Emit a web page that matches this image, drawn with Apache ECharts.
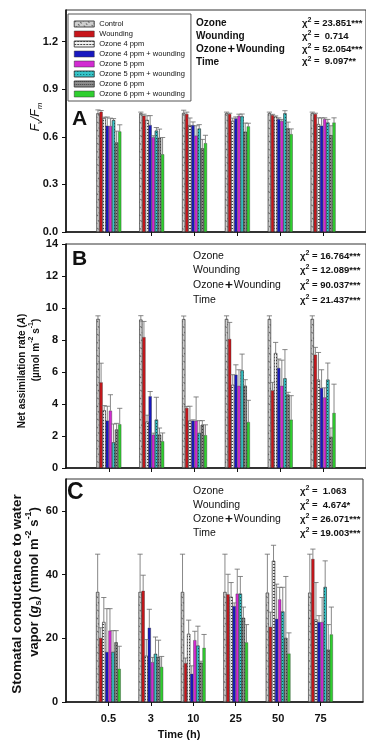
<!DOCTYPE html>
<html><head><meta charset="utf-8">
<script src="https://cdn.jsdelivr.net/npm/echarts@6/dist/echarts.min.js"></script>
<style>html,body{margin:0;padding:0;background:#fff}#c{width:366px;height:741px}</style>
</head><body><div id="c"></div>
<script>
const FF = 'Liberation Sans, Arial, sans-serif';
const FN = 'Liberation Sans Narrow, Liberation Sans, Arial, sans-serif';
const times = ['0.5','3','10','25','50','75'];
const seriesNames = ['Control','Wounding','Ozone 4 ppm','Ozone 4 ppm + wounding','Ozone 5 ppm','Ozone 5 ppm + wounding','Ozone 6 ppm','Ozone 6 ppm + wounding'];

// Panel A: Fv/Fm means and upper errors
const fvControl = [0.748,0.748,0.750,0.748,0.748,0.748];
const fvWound   = [0.758,0.733,0.744,0.744,0.737,0.744];
const fvOz4     = [0.718,0.706,0.674,0.700,0.727,0.680];
const fvOz4W    = [0.670,0.674,0.674,0.716,0.712,0.670];
const fvOz5     = [0.668,0.597,0.608,0.733,0.700,0.712];
const fvOz5W    = [0.705,0.639,0.652,0.729,0.748,0.690];
const fvOz6     = [0.564,0.593,0.527,0.632,0.653,0.610];
const fvOz6W    = [0.634,0.490,0.560,0.666,0.617,0.690];
const fvErrControl = [0.022,0.008,0.018,0.008,0.008,0.008];
const fvErrWound   = [0.008,0.010,0.012,0.005,0.005,0.005];
const fvErrOz4     = [0.006,0.027,0.045,0.018,0.005,0.040];
const fvErrOz4W    = [0.055,0.060,0.020,0.010,0.008,0.050];
const fvErrOz5     = [0.050,0.010,0.062,0.010,0.010,0.008];
const fvErrOz5W    = [0.010,0.020,0.025,0.015,0.017,0.020];
const fvErrOz6     = [0.072,0.056,0.057,0.055,0.040,0.060];
const fvErrOz6W    = [0.042,0.106,0.050,0.020,0.033,0.030];

// Panel B: Net assimilation rate
const aControl = [9.31,9.27,9.30,9.31,9.31,9.31];
const aWound   = [5.35,8.18,3.75,8.06,4.85,7.08];
const aOz4     = [3.60,2.90,2.96,5.20,7.18,5.52];
const aOz4W    = [2.96,4.48,2.96,5.83,6.25,5.00];
const aOz5     = [3.58,2.08,2.96,5.14,5.14,4.41];
const aOz5W    = [1.60,3.02,2.19,6.10,5.60,5.52];
const aOz6     = [2.40,2.08,2.70,5.14,4.58,1.94];
const aOz6W    = [2.73,1.67,2.05,2.87,3.02,3.44];
const aErrControl = [0.20,0.25,0.20,0.20,0.20,0.20];
const aErrWound   = [1.20,0.98,0.10,1.04,0.50,0.46];
const aErrOz4     = [0.30,0.40,0.90,0.63,0.67,1.70];
const aErrOz4W    = [0.90,0.30,0.05,0.62,0.56,1.14];
const aErrOz5     = [1.00,0.10,1.48,1.00,1.60,0.60];
const aErrOz5W    = [1.15,1.40,0.77,1.02,1.80,1.04];
const aErrOz6     = [0.39,0.42,0.26,0.38,0.15,0.56];
const aErrOz6W    = [1.00,0.52,0.65,1.36,1.50,1.80];

// Panel C: Stomatal conductance
const gControl = [34.5,34.5,34.5,34.5,34.3,34.3];
const gWound   = [20.1,34.9,12.2,33.8,23.6,44.9];
const gOz4     = [25.1,14.5,21.4,33.0,44.3,25.9];
const gOz4W    = [15.7,23.3,8.85,30.1,26.1,25.1];
const gOz5     = [22.4,12.5,19.4,34.0,32.2,25.1];
const gOz5W    = [15.7,15.1,17.7,34.0,28.4,36.1];
const gOz6     = [18.7,14.1,12.3,26.4,20.1,16.4];
const gOz6W    = [10.4,11.0,17.0,18.7,15.2,21.2];
const gErrControl = [11.9,11.9,11.9,11.9,12.1,12.1];
const gErrWound   = [3.2,4.9,1.6,6.3,4.6,3.1];
const gErrOz4     = [7.7,5.1,4.3,4.5,4.9,11.6];
const gErrOz4W    = [13.6,5.8,2.5,1.0,10.9,2.0];
const gErrOz5     = [6.9,1.5,2.8,7.7,3.8,7.7];
const gErrOz5W    = [6.7,5.3,6.1,5.4,7.6,8.2];
const gErrOz6     = [3.7,5.3,0.5,3.4,19.3,7.9];
const gErrOz6W    = [7.1,3.3,4.2,5.6,6.5,8.6];

const yTicksA = [0, 0.3, 0.6, 0.9, 1.2];
const yTicksB = [0, 2, 4, 6, 8, 10, 12, 14];
const yTicksC = [0, 20, 40, 60];

const statNames = ['Ozone','Wounding','Ozone+Wounding','Time'];
const chiA = ['= 23.851***','=  0.714','= 52.054***','=  9.097**'];
const chiB = ['= 16.764***','= 12.089***','= 90.037***','= 21.437***'];
const chiC = ['=  1.063','=  4.674*','= 26.071***','= 19.003***'];

const panels = [
  {means:[fvControl,fvWound,fvOz4,fvOz4W,fvOz5,fvOz5W,fvOz6,fvOz6W], errs:[fvErrControl,fvErrWound,fvErrOz4,fvErrOz4W,fvErrOz5,fvErrOz5W,fvErrOz6,fvErrOz6W], max:1.4, ticks:yTicksA, dec:1},
  {means:[aControl,aWound,aOz4,aOz4W,aOz5,aOz5W,aOz6,aOz6W], errs:[aErrControl,aErrWound,aErrOz4,aErrOz4W,aErrOz5,aErrOz5W,aErrOz6,aErrOz6W], max:14, ticks:yTicksB, dec:0},
  {means:[gControl,gWound,gOz4,gOz4W,gOz5,gOz5W,gOz6,gOz6W], errs:[gErrControl,gErrWound,gErrOz4,gErrOz4W,gErrOz5,gErrOz5W,gErrOz6,gErrOz6W], max:70, ticks:yTicksC, dec:0}
];

const styles = [
  {color:'#cfcfcf', decal:{symbol:'rect', color:'#666', dashArrayX:[1,2], dashArrayY:[2,3], rotation:-Math.PI/4, symbolSize:1}},
  {color:'#c8161b'},
  {color:'#f2f2f2', decal:{symbol:'rect', color:'#444', dashArrayX:[[2,1]], dashArrayY:[1,2], symbolSize:1}},
  {color:'#1818c0'},
  {color:'#d22ad2'},
  {color:'#35c4c8', decal:{symbol:'rect', color:'#0a5a5a', dashArrayX:[1,2], dashArrayY:[1,2], symbolSize:1}},
  {color:'#8c8c8c', decal:{symbol:'rect', color:'#3c3c3c', dashArrayX:[1,1], dashArrayY:[1,2], symbolSize:1}},
  {color:'#2fcf2f'}
];

const cats = [''].concat(times).concat(['']);
const tops = [10, 244, 479];
const heights = [222, 224, 223];
const GAP = 0.42;

const grid = tops.map((t,i)=>({left:66, width:301, top:t, height:heights[i], show:true, borderColor:'#333', borderWidth:1, backgroundColor:'transparent'}));
const xAxis = tops.map((t,i)=>({
  type:'category', gridIndex:i, data:cats, boundaryGap:false,
  axisLine:{lineStyle:{color:'#111', width:1.6}},
  axisTick:{show:true, length:4, interval:(idx,val)=>val!=='', lineStyle:{color:'#111', width:1}},
  axisLabel:{show:i===2, interval:0, fontSize:11, fontWeight:'bold', fontFamily:FF, color:'#111', margin:11},
  splitLine:{show:false}
}));
const yAxis = panels.map((p,i)=>({
  type:'value', gridIndex:i, min:0, max:p.max,
  axisLine:{show:true, lineStyle:{color:'#111', width:1.6}},
  axisTick:{show:true, length:4, customValues:p.ticks, lineStyle:{color:'#111', width:1}},
  axisLabel:{customValues:p.ticks, fontSize:11, fontWeight:'bold', fontFamily:FF, color:'#111', margin:8,
    formatter:(v)=>v.toFixed(p.dec)},
  splitLine:{show:false}
}));

const series = [];
panels.forEach((p,pi)=>{
  seriesNames.forEach((name,k)=>{
    series.push({
      type:'bar', name:name, xAxisIndex:pi, yAxisIndex:pi,
      data:[null].concat(p.means[k]).concat([null]),
      barGap:'0%', barCategoryGap:(GAP*100)+'%',
      itemStyle:Object.assign({borderColor:'#333', borderWidth:0.4}, styles[k]),
      emphasis:{disabled:true}, animation:false
    });
  });
  seriesNames.forEach((name,k)=>{
    series.push({
      type:'custom', name:'err'+pi+'_'+k, xAxisIndex:pi, yAxisIndex:pi, z:5,
      data:times.map((t,j)=>[j+1, p.means[k][j], p.errs[k][j]]),
      renderItem:(params, api)=>{
        const x = api.value(0), v = api.value(1), e = api.value(2);
        const b = api.coord([x, v]); const tp = api.coord([x, v+e]);
        const bw = api.size([1,0])[0];
        const each = bw*(1-GAP)/8;
        const cx = b[0] + each*(k-3.5);
        const st = {stroke:'#6a6a6a', lineWidth:0.8};
        return {type:'group', children:[
          {type:'line', shape:{x1:cx,y1:b[1],x2:cx,y2:tp[1]}, style:st},
          {type:'line', shape:{x1:cx-2.6,y1:tp[1],x2:cx+2.6,y2:tp[1]}, style:st}
        ]};
      },
      animation:false, silent:true
    });
  });
});

function txt(x,y,text,opt){
  return Object.assign({type:'text', x:x, y:y, silent:true,
    style:Object.assign({text:text, fill:'#111', fontFamily:FF, align:'left', verticalAlign:'middle', textAlign:'left', textVerticalAlign:'middle'}, opt.style||{})}, opt.el||{});
}
const graphic = [];
// panel letters
graphic.push(txt(72,119,'A',{style:{fontSize:21, fontWeight:'bold'}}));
graphic.push(txt(72,259,'B',{style:{fontSize:21, fontWeight:'bold'}}));
graphic.push(txt(67,493,'C',{style:{fontSize:23, fontWeight:'bold'}}));

// stats
const statCfg = [
  {x:196, xc:302, ys:[23.5,36,49.3,61.8], chi:chiA, fw:'bold', fs:10},
  {x:193, xc:300, ys:[256,270.5,285.5,300], chi:chiB, fw:'normal', fs:10.5},
  {x:193, xc:300, ys:[491.5,505,519.3,533.3], chi:chiC, fw:'normal', fs:10.5}
];
statCfg.forEach(c=>{
  statNames.forEach((n,i)=>{
    const t = n.replace('+','{p|+}');
    graphic.push(txt(c.x, c.ys[i], t, {style:{fontSize:c.fs, fontWeight:c.fw,
      rich:{p:{fontSize:c.fs+3, fontWeight:'bold', fontFamily:FF, fill:'#111', padding:[0,1,0,1]}}}}));
    graphic.push(txt(c.xc, c.ys[i], '{g|χ}{s|2}{g| '+c.chi[i]+'}', {style:{rich:{
      g:{fontSize:9.5, fontWeight:'bold', fontFamily:FN, fill:'#111', lineHeight:13},
      s:{fontSize:7, fontWeight:'bold', fontFamily:FN, fill:'#111', verticalAlign:'top', lineHeight:13}
    }}}));
  });
});

// y axis titles (rotated)
function rot(x,y,text,rich,base){
  return {type:'text', x:x, y:y, rotation:Math.PI/2, silent:true,
    style:Object.assign({text:text, fill:'#111', fontFamily:FF, align:'center', verticalAlign:'middle', textAlign:'center', textVerticalAlign:'middle', rich:rich}, base||{})};
}
const bold = (fs,extra)=>Object.assign({fontSize:fs, fontWeight:'bold', fontFamily:FF, fill:'#111', lineHeight:fs+6}, extra||{});
graphic.push(rot(36,117,'{i|F}{isb|v}{i|/F}{isb|m}',{
  i:{fontSize:12, fontStyle:'italic', fontFamily:FF, fill:'#111', lineHeight:16},
  isb:{fontSize:8, fontStyle:'italic', fontFamily:FF, fill:'#111', verticalAlign:'bottom', lineHeight:16}
}));
graphic.push(rot(22,371,'{b|Net assimilation rate (}{bi|A}{b|)}',{b:bold(10),bi:bold(10,{fontStyle:'italic'})}));
graphic.push(rot(36,350,'{b|(µmol m}{sp|-2}{b| s}{sp|-1}{b|)}',{b:bold(10),sp:bold(7,{verticalAlign:'top',lineHeight:16})}));
graphic.push(rot(17,594,'{b|Stomatal conductance to water}',{b:bold(13.5)}));
graphic.push(rot(34,582,'{b|vapor (}{bi|g}{sb|s}{b|) (mmol m}{sp|-2}{b| s}{sp|-1}{b|)}',{b:bold(13),bi:bold(13,{fontStyle:'italic'}),sb:bold(9,{verticalAlign:'bottom',lineHeight:19}),sp:bold(9,{verticalAlign:'top',lineHeight:19})}));
// x axis title
graphic.push({type:'text', x:179, y:735, silent:true, style:{text:'Time (h)', fontSize:11, fontWeight:'bold', fontFamily:FF, fill:'#111', align:'center', verticalAlign:'middle', textAlign:'center', textVerticalAlign:'middle'}});

const chart = echarts.init(document.getElementById('c'), null, {renderer:'canvas'});
chart.setOption({
  animation:false,
  backgroundColor:'#fff',
  grid:grid, xAxis:xAxis, yAxis:yAxis, series:series, graphic:graphic,
  legend:{data:seriesNames, orient:'vertical', left:68, top:14, icon:'rect', itemWidth:20, itemHeight:6, itemGap:2,
    padding:[6,6,3,6], borderColor:'#555', borderWidth:1, backgroundColor:'#fff',
    textStyle:{fontSize:7.5, fontFamily:FF, color:'#111', lineHeight:8},
    itemStyle:{borderColor:'#333', borderWidth:0.5}, selectedMode:false}
});
</script></body></html>
